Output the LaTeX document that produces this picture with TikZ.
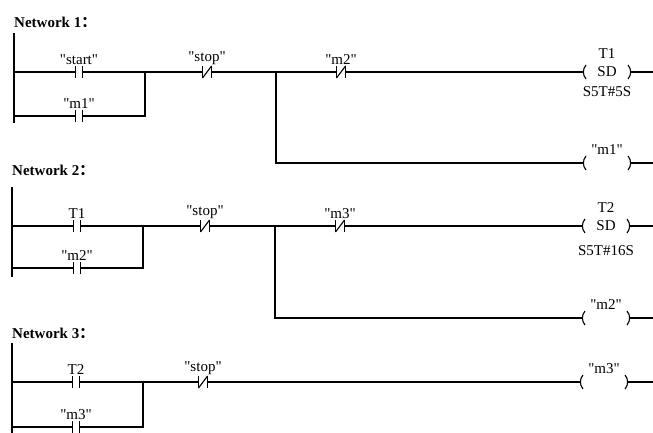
\documentclass[tikz,border=0pt]{standalone}
\usepackage{fontspec}
\setmainfont{Liberation Serif}[Ligatures=TeXOff]
\newfontfamily\cjk{Noto Sans CJK SC}
\usetikzlibrary{positioning}

\tikzset{
  wire/.style={line width=1.1pt},
  tag/.style={inner sep=1pt, font=\fontsize{15}{18}\selectfont},
  title/.style={inner sep=0pt, font=\fontsize{15}{18}\selectfont\bfseries},
  contact/.style={minimum height=12pt, inner sep=0pt, outer sep=0pt,
    label distance=9pt},
  nocon/.style={contact, minimum width=7pt},
  nccon/.style={contact, minimum width=9pt},
  coil/.style={minimum width=48pt, minimum height=14pt, inner sep=0pt,
    outer sep=0pt, label distance=3pt, font=\fontsize{15}{18}\selectfont},
}
% symbols drawn on the named nodes
\newcommand{\nobars}[1]{\draw[wire] (#1.north west) -- (#1.south west)
  (#1.north east) -- (#1.south east);}
\newcommand{\ncbars}[1]{\nobars{#1}\draw[wire] (#1.south west) -- (#1.north east);}
\newcommand{\coilsides}[1]{\draw[wire] ([xshift=3pt]#1.north west) to[bend right=40]
  ([xshift=3pt]#1.south west) ([xshift=-3pt]#1.north east) to[bend left=40]
  ([xshift=-3pt]#1.south east);}

\begin{document}
\begin{tikzpicture}[x=1pt, y=-1pt]
  \useasboundingbox (0,0) rectangle (653,433);

  % Network 1
  \node[title, anchor=west] (net1) at (14,22) {Network 1\cjk{：}};
  \coordinate (rail1) at (14,33);
  \coordinate (rail1b) at (14,123);
  \node[nocon, label={[tag]above:"start"}] (start) at (79,72) {};
  \node[nocon, label={[tag]above:"m1"}, below=32pt of start] (m1in) {};
  \node[nccon, label={[tag]above:"stop"}] (stop1) at (207,72) {};
  \node[nccon, label={[tag]above:"m2"}] (m2in) at (341,72) {};
  \node[coil, label={[tag,label distance=5pt]above:T1}, label={[tag,label distance=6pt]below:S5T\#5S}] (T1out) at (607,72) {SD};
  \node[coil, label={[tag]above:"m1"}] (m1out) at (607,163) {};
  \coordinate (j1) at (145,72);
  \coordinate (k1) at (276,72);
  \coordinate (e1) at (653,72);
  \nobars{start} \nobars{m1in} \ncbars{stop1} \ncbars{m2in}
  \coilsides{T1out} \coilsides{m1out}
  \draw[wire] (rail1) -- (rail1b);
  \draw[wire] (rail1 |- start) -- (start) -- (stop1) -- (m2in) -- (T1out) -- (e1);
  \draw[wire] (rail1 |- m1in) -- (m1in) -- (j1 |- m1in) -- (j1);
  \draw[wire] (k1) |- (m1out) -- (e1 |- m1out);

  % Network 2
  \node[title, anchor=west] (net2) at (12,170) {Network 2\cjk{：}};
  \coordinate (rail2) at (12,187);
  \coordinate (rail2b) at (12,277);
  \node[nocon, label={[tag]above:T1}] (T1in) at (77,226) {};
  \node[nocon, label={[tag]above:"m2"}, below=30pt of T1in] (m2in2) {};
  \node[nccon, label={[tag]above:"stop"}] (stop2) at (205,226) {};
  \node[nccon, label={[tag]above:"m3"}] (m3in) at (340,226) {};
  \node[coil, label={[tag,label distance=5pt]above:T2}, label={[tag,label distance=11pt]below:S5T\#16S}] (T2out) at (606,226) {SD};
  \node[coil, label={[tag]above:"m2"}] (m2out) at (606,318) {};
  \coordinate (j2) at (143,226);
  \coordinate (k2) at (275,226);
  \coordinate (e2) at (653,226);
  \nobars{T1in} \nobars{m2in2} \ncbars{stop2} \ncbars{m3in}
  \coilsides{T2out} \coilsides{m2out}
  \draw[wire] (rail2) -- (rail2b);
  \draw[wire] (rail2 |- T1in) -- (T1in) -- (stop2) -- (m3in) -- (T2out) -- (e2);
  \draw[wire] (rail2 |- m2in2) -- (m2in2) -- (j2 |- m2in2) -- (j2);
  \draw[wire] (k2) |- (m2out) -- (e2 |- m2out);

  % Network 3
  \node[title, anchor=west] (net3) at (12,333) {Network 3\cjk{：}};
  \coordinate (rail3) at (12,343);
  \coordinate (rail3b) at (12,433);
  \node[nocon, label={[tag]above:T2}] (T2in) at (76,382) {};
  \node[nocon, label={[tag]above:"m3"}, below=33pt of T2in] (m3in2) {};
  \node[nccon, label={[tag]above:"stop"}] (stop3) at (203,382) {};
  \node[coil, label={[tag]above:"m3"}] (m3out) at (604,382) {};
  \coordinate (j3) at (143,382);
  \coordinate (e3) at (653,382);
  \nobars{T2in} \nobars{m3in2} \ncbars{stop3}
  \coilsides{m3out}
  \draw[wire] (rail3) -- (rail3b);
  \draw[wire] (rail3 |- T2in) -- (T2in) -- (stop3) -- (m3out) -- (e3);
  \draw[wire] (rail3 |- m3in2) -- (m3in2) -- (j3 |- m3in2) -- (j3);
\end{tikzpicture}
\end{document}
